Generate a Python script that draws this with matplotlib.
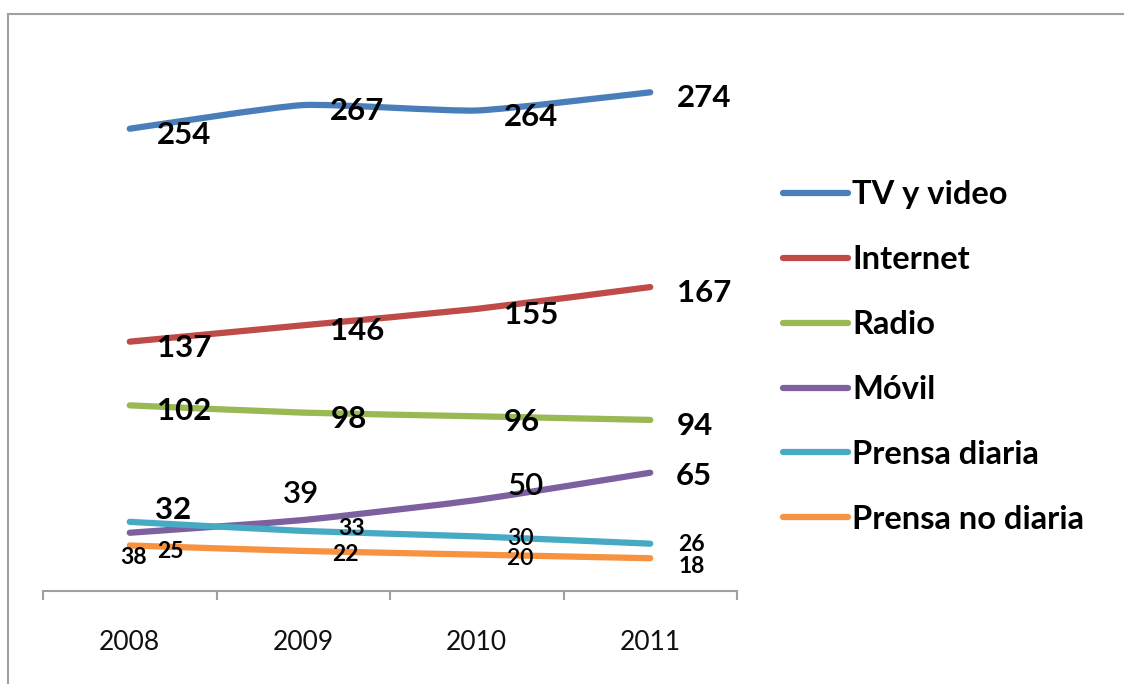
import matplotlib
matplotlib.use("Agg")
import matplotlib.pyplot as plt
from matplotlib.path import Path
from matplotlib.patches import PathPatch, Rectangle
from matplotlib.lines import Line2D

plt.rcParams['font.family'] = ['Lato', 'DejaVu Sans']

years = ["2008", "2009", "2010", "2011"]
series_names = ["TV y video", "Internet", "Radio", "Móvil", "Prensa diaria", "Prensa no diaria"]
tv_video = [254, 267, 264, 274]
internet = [137, 146, 155, 167]
radio = [102, 98, 96, 94]
movil = [32, 39, 50, 65]
prensa_diaria = [38, 33, 30, 26]
prensa_no_diaria = [25, 22, 20, 18]
all_series = [tv_video, internet, radio, movil, prensa_diaria, prensa_no_diaria]

colors = ["#4A7EBB", "#BE4B48", "#98B954", "#7D60A0", "#46AAC5", "#F69240"]

# label offsets in pixels (dx to the left edge, dy downward to the text centre)
default_off = (27, 6)
label_offsets = {
    (3, 0): (25, -23), (3, 1): (-20, -26), (3, 2): (31, -14), (3, 3): (26, 3),
    (4, 0): (-10, 36), (4, 1): (35, -2), (4, 2): (30, 2), (4, 3): (28, 1),
    (5, 0): (27, 6), (5, 1): (29, 4), (5, 2): (30, 4), (5, 3): (28, 8),
}
small_series = {4, 5}
lighter_labels = {(3, 1), (3, 2), (4, 2), (5, 2)}

W, H = 1124, 684
fig = plt.figure(figsize=(W / 100, H / 100), dpi=100)
ax = fig.add_axes([43 / W, 1 - 591 / H, (737 - 43) / W, (591 - 45) / H])
ax.set_xlim(-0.5, 3.5)
ax.set_ylim(0, 300)

TENSION = 1 / 12

def smooth_path(xs, ys):
    pts = list(zip(xs, ys))
    n = len(pts)
    verts = [pts[0]]
    codes = [Path.MOVETO]
    for i in range(n - 1):
        p0 = pts[i - 1] if i > 0 else pts[i]
        p1 = pts[i]
        p2 = pts[i + 1]
        p3 = pts[i + 2] if i + 2 < n else pts[i + 1]
        c1 = (p1[0] + (p2[0] - p0[0]) * TENSION, p1[1] + (p2[1] - p0[1]) * TENSION)
        c2 = (p2[0] - (p3[0] - p1[0]) * TENSION, p2[1] - (p3[1] - p1[1]) * TENSION)
        verts += [c1, c2, p2]
        codes += [Path.CURVE4] * 3
    return Path(verts, codes)

xs = list(range(len(years)))
handles = []
for si, (name, vals, col) in enumerate(zip(series_names, all_series, colors)):
    patch = PathPatch(smooth_path(xs, vals), facecolor="none", edgecolor=col,
                      lw=4.5, capstyle="round", joinstyle="round", zorder=3)
    ax.add_patch(patch)
    handles.append(Line2D([], [], color=col, lw=4.5, solid_capstyle="round", label=name))
    for pi, v in enumerate(vals):
        dx, dy = label_offsets.get((si, pi), default_off)
        size = 16.5 if si in small_series else 22.5
        weight = 600 if (si, pi) in lighter_labels else "bold"
        ax.annotate(str(v), xy=(pi, v), xytext=(dx * 0.72, -dy * 0.72),
                    textcoords="offset points", ha="left", va="center",
                    fontsize=size, fontweight=weight, color="black", zorder=4)

for side in ["top", "right", "left"]:
    ax.spines[side].set_visible(False)
ax.spines["bottom"].set_color("#A0A0A0")
ax.spines["bottom"].set_linewidth(1.5)
ax.set_yticks([])
ax.set_xticks(xs, labels=years)
ax.set_xticks([-0.5, 0.5, 1.5, 2.5, 3.5], minor=True)
ax.tick_params(axis="x", which="major", length=0, pad=28, labelsize=19, labelcolor="#111111")
ax.tick_params(axis="x", which="minor", length=6.5, width=1.5, color="#A0A0A0", direction="out")

leg = ax.legend(handles=handles, loc="center left",
                bbox_to_anchor=(783 / W, 1 - 357 / H), bbox_transform=fig.transFigure,
                frameon=False, borderpad=0, borderaxespad=0,
                handlelength=2.0, handletextpad=0.12, labelspacing=1.1,
                prop={"size": 23.5, "weight": "bold"})

# outer chart border
fig.patches.append(Rectangle((8 / W, -0.05), 1.1, 1 - 14 / H + 0.05, transform=fig.transFigure,
                             fill=False, edgecolor="#A0A0A0", lw=1.5, zorder=0))

fig.savefig("out.png", dpi=100)
